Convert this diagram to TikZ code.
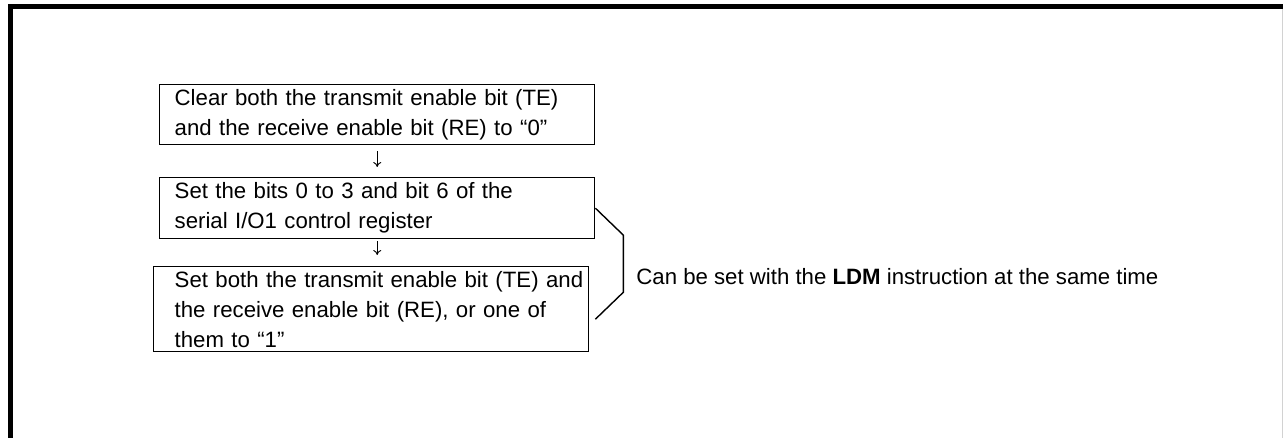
\documentclass[tikz,border=0pt]{standalone}
\usepackage{fontspec}
\setmainfont{Liberation Sans}
\usetikzlibrary{arrows.meta,positioning,calc}

\begin{document}
\begin{tikzpicture}[x=0.5pt, y=-0.5pt,
    stepbox/.style={rectangle, draw, line width=0.7pt, anchor=north west, minimum width=217.5pt, text width=202.5pt, inner xsep=7.5pt, inner ysep=0pt, align=left, font=\fontsize{11.1}{15}\selectfont},
    flow/.style={-{To[length=2.5pt,width=4pt]}, line width=0.45pt},
    notetext/.style={anchor=west, inner sep=0pt, font=\fontsize{11.1}{15}\selectfont}
]
    \useasboundingbox (0,0) rectangle (1283,438);
    % Frame
    \draw[line width=2.5pt] (10.5,438) -- (10.5,6.5) -- (1283,6.5);
    \draw[gray!35, line width=0.5pt] (1282,9) -- (1282,438);

    % Steps
    \node[stepbox, minimum height=30pt] (clear) at (159,84) {Clear both the transmit enable bit (TE)\\and the receive enable bit (RE) to “0”};
    \node[stepbox, minimum height=30.5pt] (setbits) at (159,177) {Set the bits 0 to 3 and bit 6 of the\\serial I/O1 control register};
    \node[stepbox, minimum height=42.5pt, text width=215pt, inner xsep=1.25pt] (enable) at (153,266) {\hspace*{9.25pt}Set both the transmit enable bit (TE) and\\\hspace*{9.25pt}the receive enable bit (RE), or one of\\\hspace*{9.25pt}them to “1”};

    % Note
    \node[notetext] (ldm) at (636,277) {Can be set with the \textbf{LDM} instruction at the same time};

    % Flow
    \draw[flow, shorten <=3pt, shorten >=5pt] (clear.south) -- (clear.south |- setbits.north);
    \draw[flow, shorten <=1pt, shorten >=5.5pt] (setbits.south) -- (setbits.south |- enable.north);

    % Bracket
    \draw[line width=0.7pt] (setbits.east) -- ++(28,27) -- ++(0,57) -- ($(enable.east)+(6,10)$);
\end{tikzpicture}
\end{document}
